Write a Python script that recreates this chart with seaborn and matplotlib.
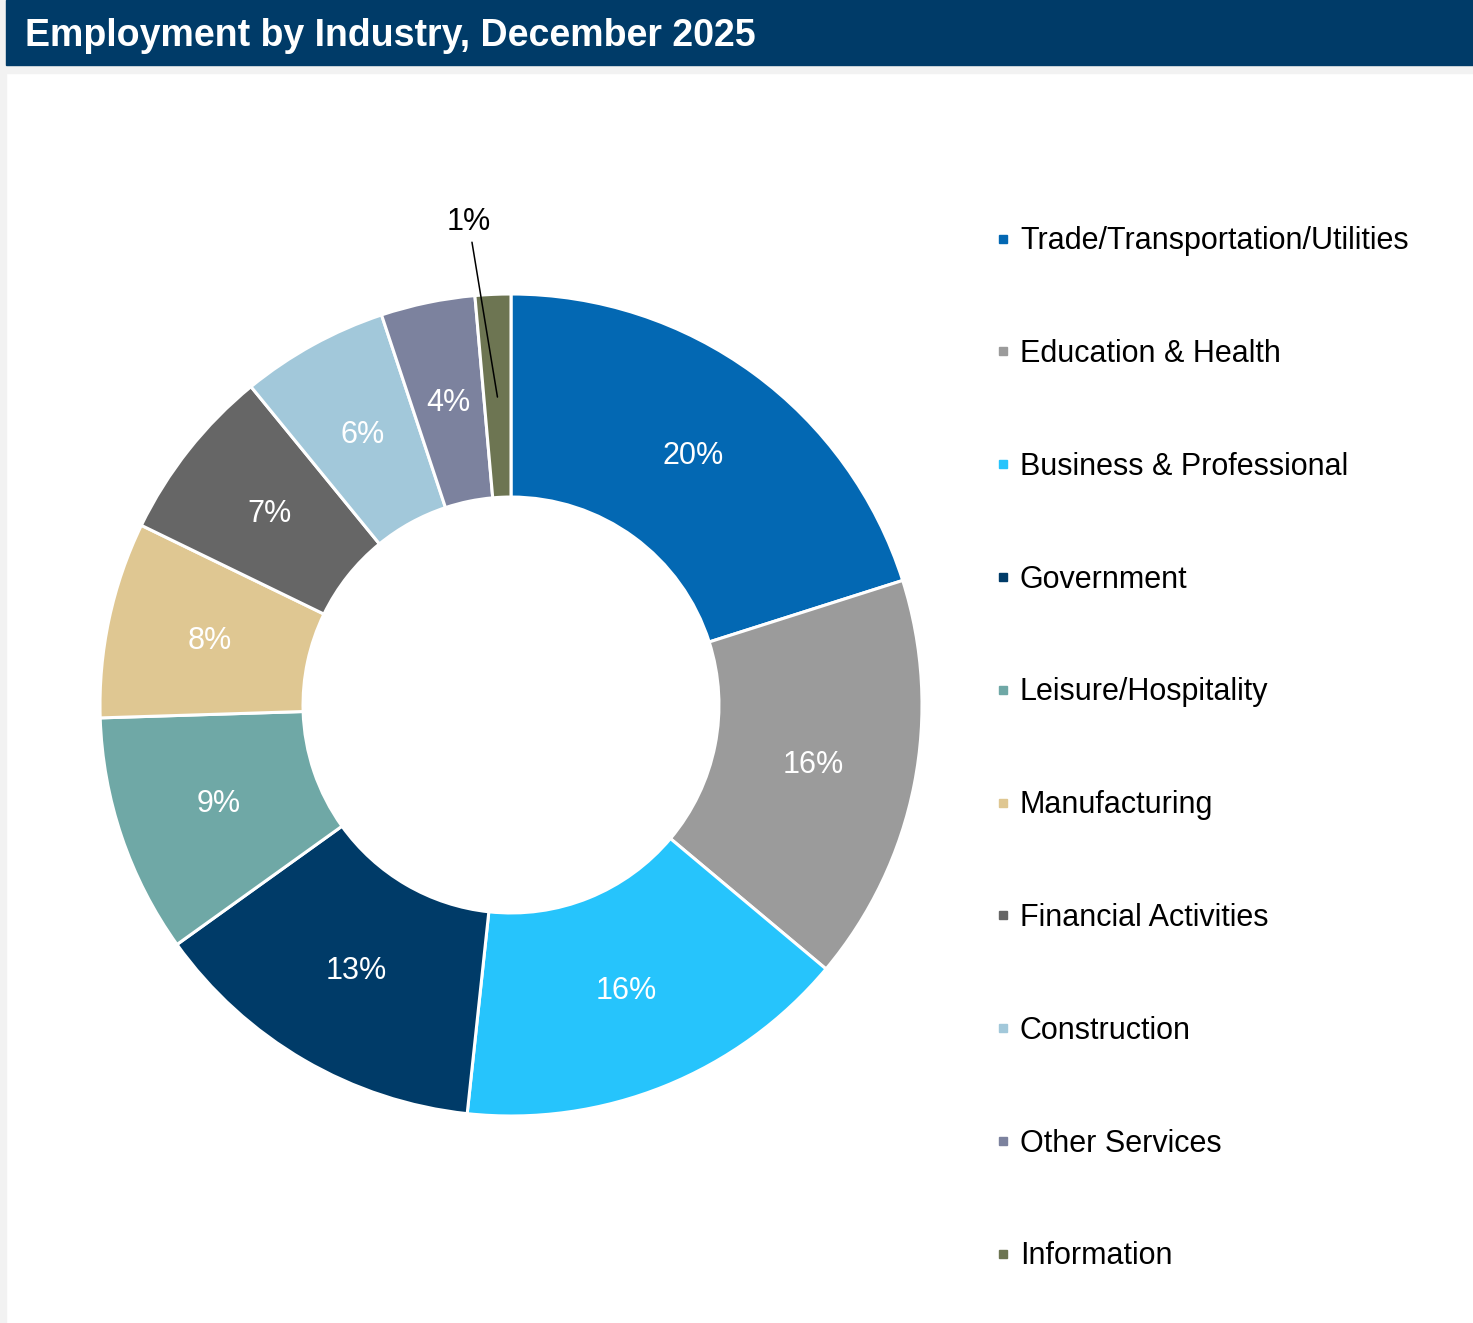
import matplotlib
matplotlib.use('Agg')
import matplotlib.pyplot as plt
from matplotlib.patches import Rectangle
from matplotlib.lines import Line2D
import seaborn as sns
import numpy as np

industries = ["Trade/Transportation/Utilities", "Education & Health", "Business & Professional",
              "Government", "Leisure/Hospitality", "Manufacturing", "Financial Activities",
              "Construction", "Other Services", "Information"]
shares = [20.1, 16.0, 15.6, 13.4, 9.4, 7.7, 6.9, 5.8, 3.7, 1.4]
colors = ["#0368B3", "#9B9B9B", "#26C4FC", "#003B68", "#6FA8A6",
          "#DFC792", "#666666", "#A2C8DA", "#7C829E", "#6D7552"]

sns.set_theme(style="white")
plt.rcParams['font.family'] = ['Liberation Sans', 'DejaVu Sans']
plt.rcParams['text.color'] = 'black'

W, H = 1473, 1323
fig = plt.figure(figsize=(W / 100, H / 100), dpi=100)
fig.patch.set_facecolor("white")

# header band and frame
fig.add_artist(Rectangle((0, 0), 6 / W, 1, transform=fig.transFigure, color="#F2F2F2", zorder=0))
fig.add_artist(Rectangle((0, 1 - 73 / H), 1, 8 / H, transform=fig.transFigure, color="#F2F2F2", zorder=0))
fig.add_artist(Rectangle((6 / W, 1 - 65 / H), 1, 65 / H, transform=fig.transFigure, color="#003B68", zorder=1))
fig.text(25 / W, 1 - 36 / H, "Employment by Industry, December 2025", color="white",
         fontsize=27, fontweight="bold", va="center", ha="left", zorder=2)

# donut
cx, cy, r = 511, 705, 411
ax = fig.add_axes([(cx - r) / W, (H - cy - r) / H, 2 * r / W, 2 * r / H])
pal = sns.color_palette(colors)
wedges, texts, autotexts = ax.pie(shares, colors=pal, startangle=90, counterclock=False,
                                  autopct="%.0f%%", pctdistance=0.75,
                                  wedgeprops=dict(width=0.494, edgecolor="white", linewidth=2.2),
                                  textprops=dict(color="white", fontsize=22))
ax.set_aspect("equal")
ax.set_xlim(-1, 1)
ax.set_ylim(-1, 1)
ax.axis("off")

# smallest slice: label outside with leader line
w = wedges[-1]
t = autotexts[-1]
mid = np.deg2rad((w.theta1 + w.theta2) / 2)
t.set_color("black")
t.set_position((1.18 * np.cos(mid + np.deg2rad(2.5)), 1.18 * np.sin(mid + np.deg2rad(2.5))))
ax.plot([1.13 * np.cos(mid + np.deg2rad(2.3)), 0.75 * np.cos(mid)],
        [1.13 * np.sin(mid + np.deg2rad(2.3)), 0.75 * np.sin(mid)],
        color="black", linewidth=1.1, clip_on=False, zorder=5)

handles = [Line2D([], [], marker="s", linestyle="none", markersize=6,
                  markerfacecolor=c, markeredgecolor=c) for c in colors]
fig.legend(handles, industries, loc="upper left", bbox_to_anchor=(982 / W, 1 - 214 / H),
           frameon=False, fontsize=22, handlelength=0.6, handletextpad=0.24,
           labelspacing=2.71, borderaxespad=0, labelcolor="black")

fig.savefig("out.png", dpi=100, facecolor=fig.get_facecolor())
